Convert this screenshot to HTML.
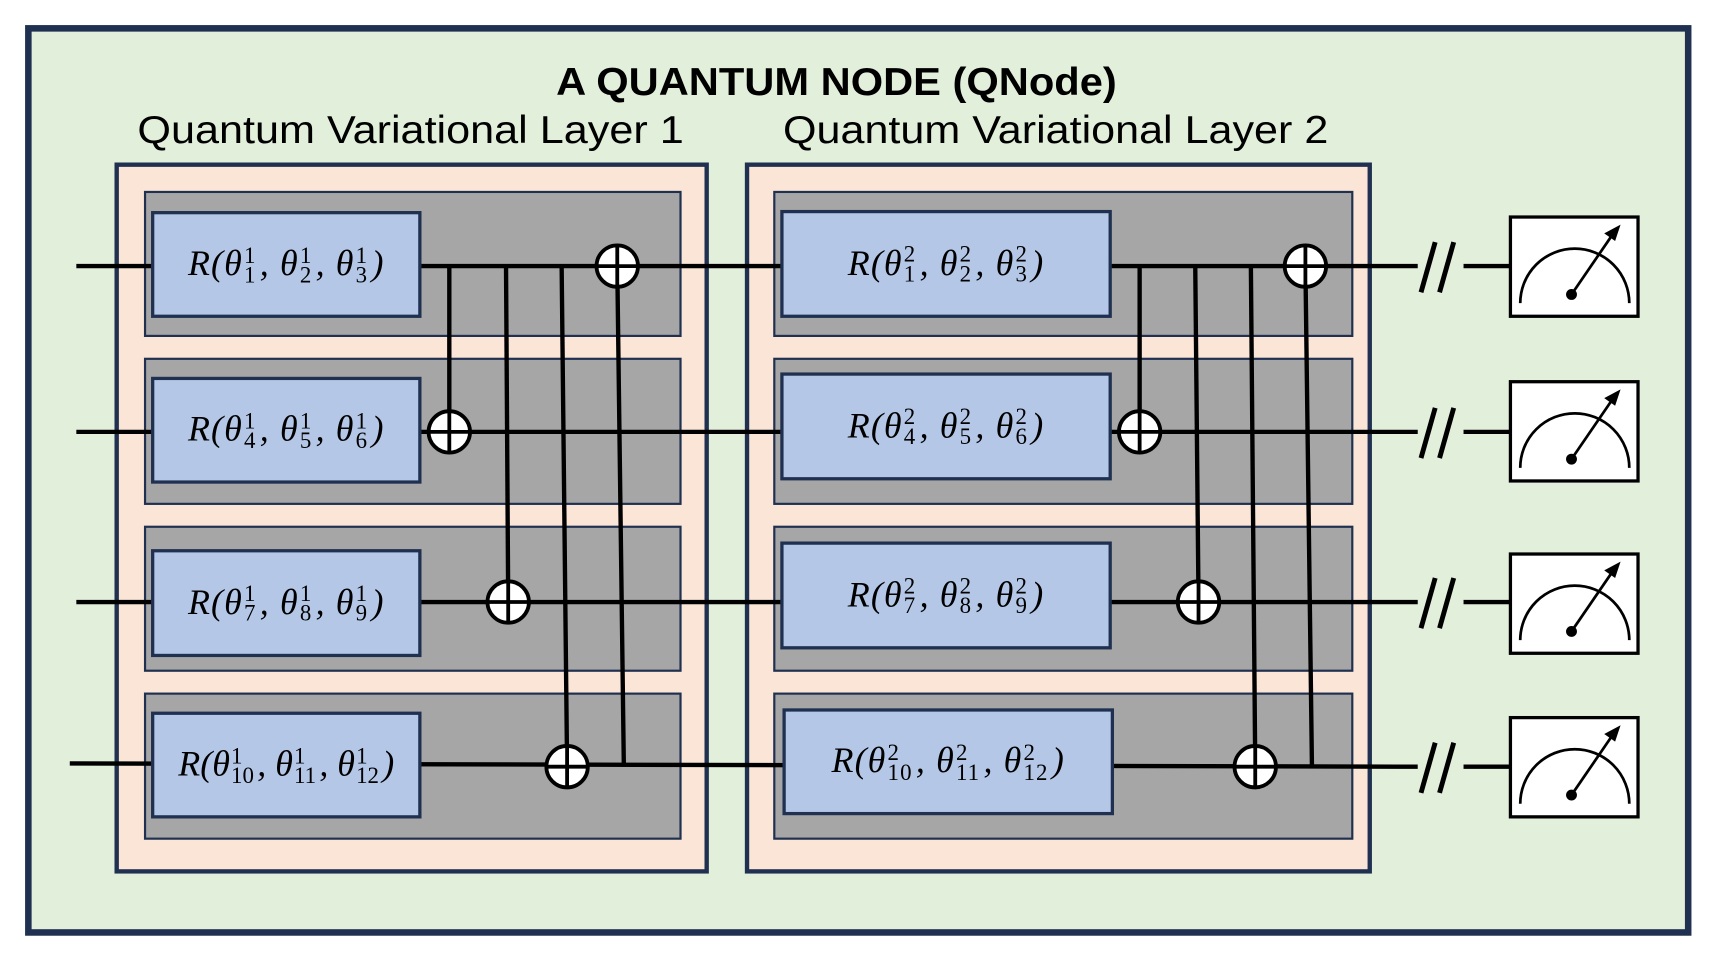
<!DOCTYPE html>
<html><head><meta charset="utf-8"><style>
html,body{margin:0;padding:0;background:#fff;}
svg{display:block;}
.lbl{font-family:"Liberation Serif",serif;font-style:italic;font-size:33px;color:#000;display:flex;align-items:center;justify-content:center;width:100%;height:100%;white-space:nowrap;letter-spacing:1px;}
.ss{display:inline-flex;flex-direction:column;font-size:21px;line-height:18px;vertical-align:middle;margin:0 3px 0 1px;font-style:normal;}
.ss i{font-style:normal;}
</style></head><body>
<svg width="1710" height="957" viewBox="0 0 1568 877.5" preserveAspectRatio="none" xmlns="http://www.w3.org/2000/svg">
<defs>
<g id="t"><circle cx="0" cy="0" r="19"/><line x1="-19" y1="0" x2="19" y2="0"/><line x1="0" y1="-19" x2="0" y2="19"/></g>
</defs>
<rect x="0" y="0" width="1568" height="877.5" fill="#fff"/>
<rect x="26" y="26" width="1522" height="829" fill="#e2efda" stroke="#1f3050" stroke-width="6"/>
<text x="510" y="87" textLength="514" lengthAdjust="spacingAndGlyphs" font-family="Liberation Sans,sans-serif" font-weight="bold" font-size="36">A QUANTUM NODE (QNode)</text>
<text x="126" y="131" textLength="501" lengthAdjust="spacingAndGlyphs" font-family="Liberation Sans,sans-serif" font-size="36">Quantum Variational Layer 1</text>
<text x="718" y="131" textLength="500" lengthAdjust="spacingAndGlyphs" font-family="Liberation Sans,sans-serif" font-size="36">Quantum Variational Layer 2</text>
<rect x="107" y="151" width="541" height="648" fill="#fbe5d6" stroke="#1f3050" stroke-width="4"/>
<rect x="685" y="151" width="571" height="648" fill="#fbe5d6" stroke="#1f3050" stroke-width="4"/>
<g fill="#a6a6a6" stroke="#1f3050" stroke-width="2">
<rect x="133" y="176" width="491" height="132"/><rect x="133" y="329" width="491" height="133"/>
<rect x="133" y="483" width="491" height="132"/><rect x="133" y="636" width="491" height="133"/>
<rect x="710" y="176" width="530" height="132"/><rect x="710" y="329" width="530" height="133"/>
<rect x="710" y="483" width="530" height="132"/><rect x="710" y="636" width="530" height="133"/>
</g>
<g stroke="#000" stroke-width="4" fill="none">
<line x1="70" y1="244" x2="1300" y2="244"/><line x1="70" y1="396" x2="1300" y2="396"/>
<line x1="70" y1="552" x2="1300" y2="552"/><line x1="64" y1="700" x2="1300" y2="703"/>
<line x1="1342" y1="244" x2="1385" y2="244"/><line x1="1342" y1="396" x2="1385" y2="396"/>
<line x1="1342" y1="552" x2="1385" y2="552"/><line x1="1342" y1="703" x2="1385" y2="703"/>
<line x1="412" y1="244" x2="412" y2="396"/><line x1="464" y1="244" x2="466" y2="552"/>
<line x1="515" y1="244" x2="520" y2="703"/><line x1="566" y1="244" x2="572" y2="700"/>
<line x1="1045" y1="244" x2="1045" y2="396"/><line x1="1096" y1="244" x2="1099" y2="552"/>
<line x1="1147" y1="244" x2="1151" y2="703"/><line x1="1197" y1="244" x2="1203" y2="703"/>
<g stroke-width="4.5">
<line x1="1303" y1="268" x2="1316" y2="222"/><line x1="1320" y1="268" x2="1333" y2="222"/>
<line x1="1303" y1="420" x2="1316" y2="374"/><line x1="1320" y1="420" x2="1333" y2="374"/>
<line x1="1303" y1="576" x2="1316" y2="530"/><line x1="1320" y1="576" x2="1333" y2="530"/>
<line x1="1303" y1="727" x2="1316" y2="681"/><line x1="1320" y1="727" x2="1333" y2="681"/>
</g>
</g>
<g fill="#b4c7e7" stroke="#1f3050" stroke-width="3">
<rect x="140" y="195" width="245" height="95"/><rect x="140" y="347" width="245" height="95"/>
<rect x="140" y="505" width="245" height="96"/><rect x="140" y="654" width="245" height="95"/>
<rect x="717" y="194" width="301" height="96"/><rect x="717" y="343" width="301" height="96"/>
<rect x="717" y="498" width="301" height="96"/><rect x="719" y="651" width="301" height="95"/>
</g>
<g fill="#fff" stroke="#000" stroke-width="3.5">
<use href="#t" x="566" y="244"/><use href="#t" x="412" y="396"/><use href="#t" x="466" y="552"/><use href="#t" x="520" y="703"/>
<use href="#t" x="1197" y="244"/><use href="#t" x="1045" y="396"/><use href="#t" x="1099" y="552"/><use href="#t" x="1151" y="703"/>
</g>
<g id="m">
<rect x="1385" y="199" width="117" height="91" fill="#fff" stroke="#000" stroke-width="3"/>
<path d="M1394 278 A50 50 0 0 1 1494 278" fill="none" stroke="#000" stroke-width="2.5"/>
<line x1="1441" y1="270" x2="1478" y2="216" stroke="#000" stroke-width="2.5"/>
<polygon points="1486,206 1471,214 1481,221" fill="#000"/>
<circle cx="1441" cy="270" r="5" fill="#000"/>
</g>
<use href="#m" y="151"/><use href="#m" y="309"/><use href="#m" y="459"/>
<foreignObject x="140" y="195" width="245" height="95"><div xmlns="http://www.w3.org/1999/xhtml" class="lbl">R(θ<span class="ss"><i>1</i><i>1</i></span>, θ<span class="ss"><i>1</i><i>2</i></span>, θ<span class="ss"><i>1</i><i>3</i></span>)</div></foreignObject>
<foreignObject x="140" y="347" width="245" height="95"><div xmlns="http://www.w3.org/1999/xhtml" class="lbl">R(θ<span class="ss"><i>1</i><i>4</i></span>, θ<span class="ss"><i>1</i><i>5</i></span>, θ<span class="ss"><i>1</i><i>6</i></span>)</div></foreignObject>
<foreignObject x="140" y="505" width="245" height="96"><div xmlns="http://www.w3.org/1999/xhtml" class="lbl">R(θ<span class="ss"><i>1</i><i>7</i></span>, θ<span class="ss"><i>1</i><i>8</i></span>, θ<span class="ss"><i>1</i><i>9</i></span>)</div></foreignObject>
<foreignObject x="140" y="654" width="245" height="95"><div xmlns="http://www.w3.org/1999/xhtml" class="lbl" style="letter-spacing:0">R(θ<span class="ss"><i>1</i><i>10</i></span>, θ<span class="ss"><i>1</i><i>11</i></span>, θ<span class="ss"><i>1</i><i>12</i></span>)</div></foreignObject>
<foreignObject x="717" y="194" width="301" height="96"><div xmlns="http://www.w3.org/1999/xhtml" class="lbl">R(θ<span class="ss"><i>2</i><i>1</i></span>, θ<span class="ss"><i>2</i><i>2</i></span>, θ<span class="ss"><i>2</i><i>3</i></span>)</div></foreignObject>
<foreignObject x="717" y="343" width="301" height="96"><div xmlns="http://www.w3.org/1999/xhtml" class="lbl">R(θ<span class="ss"><i>2</i><i>4</i></span>, θ<span class="ss"><i>2</i><i>5</i></span>, θ<span class="ss"><i>2</i><i>6</i></span>)</div></foreignObject>
<foreignObject x="717" y="498" width="301" height="96"><div xmlns="http://www.w3.org/1999/xhtml" class="lbl">R(θ<span class="ss"><i>2</i><i>7</i></span>, θ<span class="ss"><i>2</i><i>8</i></span>, θ<span class="ss"><i>2</i><i>9</i></span>)</div></foreignObject>
<foreignObject x="719" y="651" width="301" height="95"><div xmlns="http://www.w3.org/1999/xhtml" class="lbl">R(θ<span class="ss"><i>2</i><i>10</i></span>, θ<span class="ss"><i>2</i><i>11</i></span>, θ<span class="ss"><i>2</i><i>12</i></span>)</div></foreignObject>
</svg>
</body></html>
